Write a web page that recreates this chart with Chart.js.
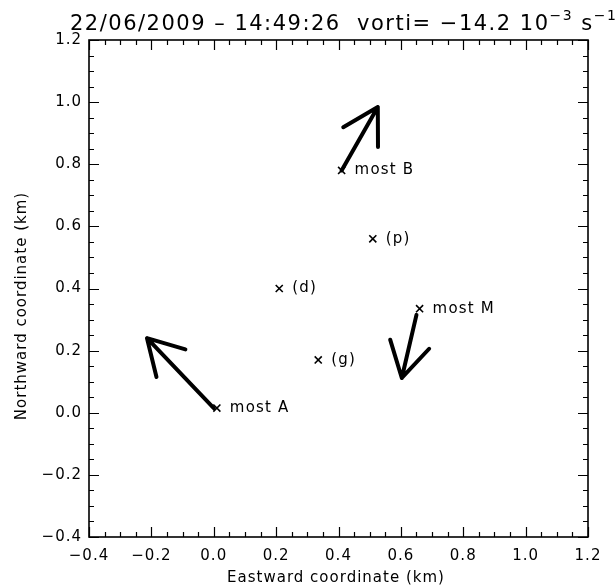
<!DOCTYPE html>
<html><head><meta charset="utf-8">
<script src="https://cdn.jsdelivr.net/npm/chart.js@4"></script>
<style>html,body{margin:0;padding:0;background:#fff}#wrap{width:615px;height:586px}</style>
</head><body><div id="wrap"><canvas id="c" width="615" height="586"></canvas></div>
<script>
// ---- data ----
const siteNames = ['most A', 'most B', 'most M', '(p)', '(d)', '(g)'];
const siteX = [0.01, 0.41, 0.66, 0.51, 0.21, 0.335];
const siteY = [0.015, 0.78, 0.335, 0.56, 0.40, 0.17];
// wind arrows (start and end, km)
const arrowX0 = [0.0, 0.41, 0.65];
const arrowY0 = [0.015, 0.78, 0.315];
const arrowX1 = [-0.214, 0.526, 0.603];
const arrowY1 = [0.24, 0.984, 0.112];
const axisMin = -0.4, axisMax = 1.2, majorStep = 0.2, minorStep = 0.05;
const titleMain = '22/06/2009 \u2013 14:49:26  vorti= \u221214.2 10';
const titleSup1 = '\u22123';
const titleMid = ' s';
const titleSup2 = '\u22121';
const xTitle = 'Eastward coordinate (km)';
const yTitle = 'Northward coordinate (km)';

const FONT = '"DejaVu Sans", sans-serif';
const fmt = v => { const s = (Math.abs(v) < 1e-9 ? 0 : v).toFixed(1); return s.replace('-', '\u2212'); };

const spacingPlugin = {
  id: 'spacing',
  beforeDraw(chart) { chart.ctx.letterSpacing = '1px'; }
};

const framePlugin = {
  id: 'frame',
  afterDraw(chart) {
    const {ctx, chartArea: a, scales: {x, y}} = chart;
    ctx.save();
    ctx.strokeStyle = '#000'; ctx.lineWidth = 1.6;
    ctx.strokeRect(a.left, a.top, a.right - a.left, a.bottom - a.top);
    ctx.lineWidth = 1.2;
    const n = Math.round((axisMax - axisMin) / minorStep);
    ctx.beginPath();
    for (let i = 0; i <= n; i++) {
      const v = axisMin + i * minorStep;
      const major = (i % Math.round(majorStep / minorStep)) === 0;
      const L = major ? 10 : 5;
      const px = Math.round(x.getPixelForValue(v)) + 0.5;
      ctx.moveTo(px, a.bottom); ctx.lineTo(px, a.bottom - L);
      ctx.moveTo(px, a.top); ctx.lineTo(px, a.top + L);
      const py = Math.round(y.getPixelForValue(v)) + 0.5;
      ctx.moveTo(a.left, py); ctx.lineTo(a.left + L, py);
      ctx.moveTo(a.right, py); ctx.lineTo(a.right - L, py);
    }
    ctx.stroke();
    // axis titles
    ctx.fillStyle = '#000'; ctx.font = '15px ' + FONT; ctx.letterSpacing = '1px';
    ctx.textAlign = 'center'; ctx.textBaseline = 'middle';
    ctx.fillText(xTitle, 336, 578);
    ctx.translate(22, 306); ctx.rotate(-Math.PI / 2);
    ctx.fillText(yTitle, 0, 0);
    ctx.restore();
  }
};

const arrowPlugin = {
  id: 'arrows',
  afterDatasetsDraw(chart) {
    const {ctx, scales: {x, y}} = chart;
    ctx.save();
    ctx.strokeStyle = '#000'; ctx.lineWidth = 4; ctx.lineCap = 'round'; ctx.lineJoin = 'round';
    for (let i = 0; i < arrowX0.length; i++) {
      const x0 = x.getPixelForValue(arrowX0[i]), y0 = y.getPixelForValue(arrowY0[i]);
      const x1 = x.getPixelForValue(arrowX1[i]), y1 = y.getPixelForValue(arrowY1[i]);
      const ang = Math.atan2(y0 - y1, x0 - x1);
      const h = 40, sp = Math.PI / 6;
      ctx.beginPath();
      ctx.moveTo(x0, y0); ctx.lineTo(x1, y1);
      ctx.moveTo(x1 + h * Math.cos(ang + sp), y1 + h * Math.sin(ang + sp));
      ctx.lineTo(x1, y1);
      ctx.lineTo(x1 + h * Math.cos(ang - sp), y1 + h * Math.sin(ang - sp));
      ctx.stroke();
    }
    ctx.restore();
  }
};

const labelPlugin = {
  id: 'labels',
  afterDatasetsDraw(chart) {
    const {ctx, scales: {x, y}} = chart;
    ctx.save();
    ctx.fillStyle = '#000'; ctx.font = '15px ' + FONT; ctx.textBaseline = 'middle'; ctx.textAlign = 'left';
    ctx.letterSpacing = '1.2px';
    for (let i = 0; i < siteNames.length; i++) {
      ctx.fillText(siteNames[i], x.getPixelForValue(siteX[i]) + 13, y.getPixelForValue(siteY[i]));
    }
    ctx.restore();
  }
};

const titlePlugin = {
  id: 'ttl',
  afterDraw(chart) {
    const {ctx} = chart;
    ctx.save();
    ctx.fillStyle = '#000'; ctx.textBaseline = 'alphabetic'; ctx.textAlign = 'left';
    ctx.letterSpacing = '1.5px';
    let xp = 70; const base = 30;
    ctx.font = '21px ' + FONT;
    ctx.fillText(titleMain, xp, base); xp += ctx.measureText(titleMain).width;
    ctx.font = '14px ' + FONT;
    ctx.fillText(titleSup1, xp, base - 10); xp += ctx.measureText(titleSup1).width;
    ctx.font = '21px ' + FONT;
    ctx.fillText(titleMid, xp, base); xp += ctx.measureText(titleMid).width;
    ctx.font = '14px ' + FONT;
    ctx.fillText(titleSup2, xp, base - 10);
    ctx.restore();
  }
};

new Chart(document.getElementById('c'), {
  type: 'scatter',
  data: {
    datasets: [{
      data: siteX.map((v, i) => ({x: v, y: siteY[i]})),
      pointStyle: 'crossRot', radius: 5, borderColor: '#000', borderWidth: 1.6, backgroundColor: '#000'
    }]
  },
  options: {
    responsive: false, animation: false, devicePixelRatio: 1,
    layout: {padding: {top: 40, right: 27, left: 0, bottom: 0}},
    plugins: {legend: {display: false}, tooltip: {enabled: false}, title: {display: false}},
    scales: {
      x: {
        type: 'linear', min: axisMin, max: axisMax,
        afterFit: s => { s.height = 49; },
        grid: {display: false, drawTicks: false}, border: {display: false},
        ticks: {stepSize: majorStep, padding: 10, color: '#000', font: {family: FONT, size: 15}, maxRotation: 0, callback: fmt},
        title: {display: false}
      },
      y: {
        type: 'linear', min: axisMin, max: axisMax,
        afterFit: s => { s.width = 89; },
        grid: {display: false, drawTicks: false}, border: {display: false},
        ticks: {stepSize: majorStep, padding: 7, color: '#000', font: {family: FONT, size: 15}, callback: fmt},
        title: {display: false}
      }
    }
  },
  plugins: [spacingPlugin, framePlugin, arrowPlugin, labelPlugin, titlePlugin]
});
</script></body></html>
